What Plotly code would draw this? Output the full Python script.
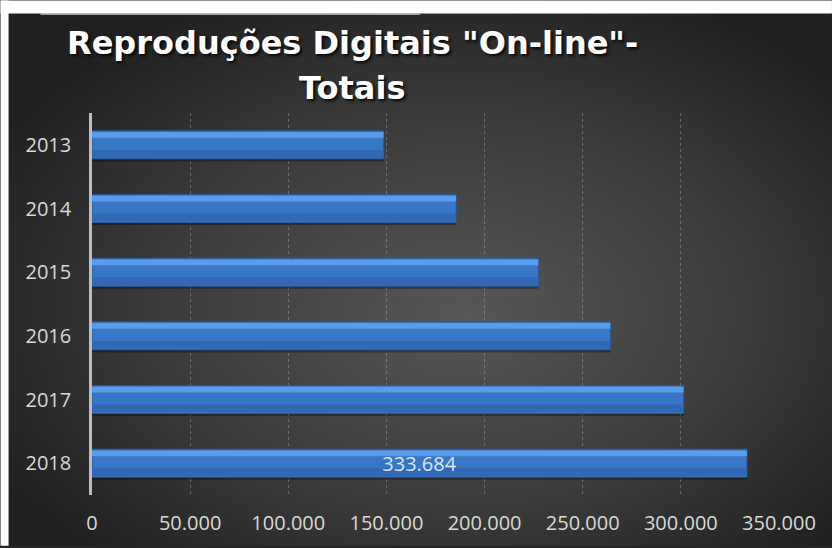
import plotly.graph_objects as go
import urllib.parse

# ---- data ----
years = ["2013", "2014", "2015", "2016", "2017", "2018"]
totals = [148600, 185500, 227400, 264100, 301400, 333684]
x_ticks = [0, 50000, 100000, 150000, 200000, 250000, 300000, 350000]
title_line1 = 'Reproduções Digitais "On-line"-'
title_line2 = "Totais"
labels = ["", "", "", "", "", "333.684"]

W, H = 832, 548
ML, MR, MT, MB = 91.5, 53, 113, 51
PW, PH = W - ML - MR, H - MT - MB

svg = f'''<svg xmlns="http://www.w3.org/2000/svg" width="{W}" height="{H}" viewBox="0 0 {W} {H}" preserveAspectRatio="none">
<defs><radialGradient id="g" cx="0.54" cy="0.56" r="0.62" fx="0.56" fy="0.58">
<stop offset="0" stop-color="#575757"/><stop offset="0.55" stop-color="#3c3c3c"/><stop offset="1" stop-color="#202020"/>
</radialGradient></defs>
<rect x="-4" y="-4" width="{W+8}" height="{H+8}" fill="url(#g)"/>
<rect x="-4" y="-4" width="{W+8}" height="17" fill="#ffffff"/>
<rect x="-4" y="-4" width="12" height="{H+8}" fill="#ffffff"/>
<line x1="40" y1="13.5" x2="420" y2="13.5" stroke="#c8c8c8" stroke-width="1.5"/>
</svg>'''
src = "data:image/svg+xml;charset=utf-8," + urllib.parse.quote(svg)

fig = go.Figure()

# drop shadow
fig.add_trace(go.Bar(y=years, x=totals, orientation="h", width=0.46, offset=-0.2,
                     marker=dict(color="rgba(0,0,0,0.35)", line=dict(width=0)),
                     hoverinfo="skip", showlegend=False))
# main bar
fig.add_trace(go.Bar(y=years, x=totals, orientation="h", width=0.44, offset=-0.22,
                     marker=dict(color="#3877c8", line=dict(color="#28589a", width=1)),
                     showlegend=False))
# lower darker band
fig.add_trace(go.Bar(y=years, x=totals, orientation="h", width=0.12, offset=0.08,
                     marker=dict(color="#3068b4", line=dict(width=0)),
                     hoverinfo="skip", showlegend=False))
# top highlight band
fig.add_trace(go.Bar(y=years, x=totals, orientation="h", width=0.09, offset=-0.2,
                     marker=dict(color="#5b9ce8", line=dict(width=0)),
                     hoverinfo="skip", showlegend=False))
# label
fig.add_trace(go.Bar(y=years, x=totals, orientation="h", width=0.44, offset=-0.22,
                     marker=dict(color="rgba(0,0,0,0)", line=dict(width=0)),
                     text=labels, textposition="inside", insidetextanchor="middle",
                     constraintext="none",
                     textfont=dict(family="Open Sans", size=20, color="#dce6f4"),
                     hoverinfo="skip", showlegend=False))

fig.update_layout(
    width=W, height=H,
    margin=dict(l=ML, r=MR, t=MT, b=MB, pad=0),
    barmode="overlay",
    separators=",.",
    paper_bgcolor="#262626",
    plot_bgcolor="rgba(0,0,0,0)",
    images=[dict(source=src, xref="paper", yref="paper",
                 x=-ML / PW, y=1 + MT / PH, sizex=W / PW, sizey=H / PH,
                 xanchor="left", yanchor="top", sizing="stretch", layer="below")],
    xaxis=dict(range=[0, 350000], tickvals=x_ticks, tickformat=",d",
               showgrid=True, gridcolor="rgba(200,200,200,0.35)", griddash="dot", gridwidth=1,
               zeroline=False, showline=False, ticks="",
               tickfont=dict(family="Open Sans", size=20, color="#d9d9d9"),
               ticklabelstandoff=14),
    yaxis=dict(autorange="reversed", showgrid=False, zeroline=False,
               showline=True, linecolor="#bdbdbd", linewidth=2.5, ticks="",
               tickfont=dict(family="Open Sans", size=20, color="#d9d9d9"),
               ticklabelstandoff=14),
    annotations=[
        dict(text=f"<b>{title_line1}</b>", xref="paper", yref="paper",
             x=(352 - ML) / PW, y=(497 - 43) / PH, xanchor="center", yanchor="middle",
             showarrow=False,
             font=dict(family="DejaVu Sans", size=32, color="#ffffff",
                       shadow="2px 2px 3px rgba(0,0,0,0.85)")),
        dict(text=f"<b>{title_line2}</b>", xref="paper", yref="paper",
             x=(352 - ML) / PW, y=(497 - 88) / PH, xanchor="center", yanchor="middle",
             showarrow=False,
             font=dict(family="DejaVu Sans", size=32, color="#ffffff",
                       shadow="2px 2px 3px rgba(0,0,0,0.85)")),
    ],
)

fig.write_html(
    "out.html",
    config={"displayModeBar": False},
    post_script="document.body.style.margin='0';document.body.style.overflow='hidden';"
                "document.body.style.background='#222222';"
                "document.documentElement.style.background='#222222';"
                "document.documentElement.style.overflow='hidden';",
)
